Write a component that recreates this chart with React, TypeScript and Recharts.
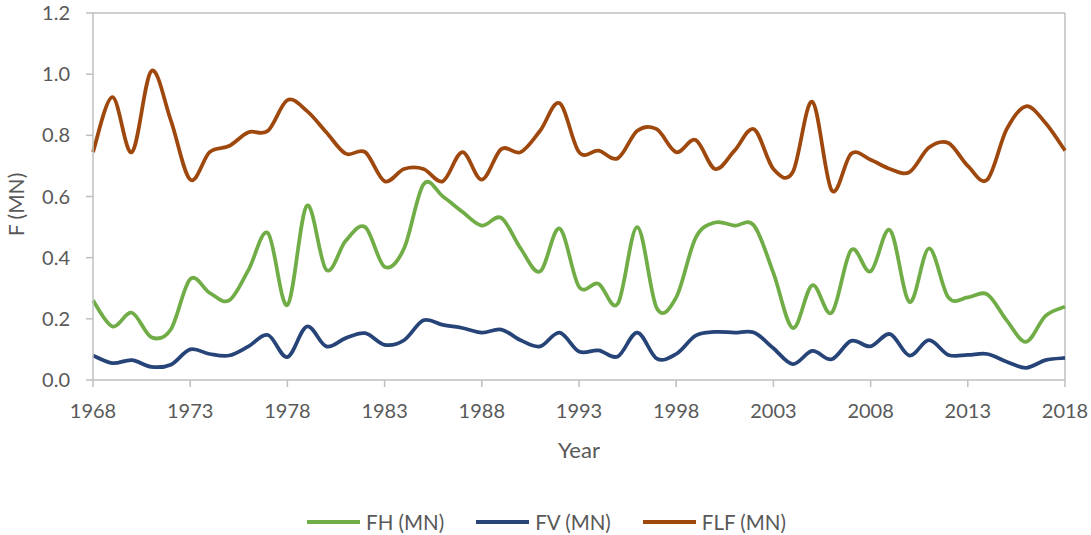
import React from 'react';
import { LineChart, Line, XAxis, YAxis, Legend, ReferenceLine } from 'recharts';

const years = [
  1968, 1969, 1970, 1971, 1972, 1973, 1974, 1975, 1976, 1977,
  1978, 1979, 1980, 1981, 1982, 1983, 1984, 1985, 1986, 1987,
  1988, 1989, 1990, 1991, 1992, 1993, 1994, 1995, 1996, 1997,
  1998, 1999, 2000, 2001, 2002, 2003, 2004, 2005, 2006, 2007,
  2008, 2009, 2010, 2011, 2012, 2013, 2014, 2015, 2016, 2017, 2018,
];

const fh = [
  0.26, 0.175, 0.22, 0.14, 0.165, 0.33, 0.285, 0.26, 0.36, 0.48,
  0.245, 0.57, 0.36, 0.455, 0.5, 0.37, 0.43, 0.64, 0.6, 0.55,
  0.505, 0.53, 0.43, 0.355, 0.495, 0.305, 0.315, 0.25, 0.5, 0.235,
  0.27, 0.465, 0.515, 0.505, 0.505, 0.35, 0.17, 0.31, 0.22, 0.425,
  0.355, 0.49, 0.255, 0.43, 0.27, 0.27, 0.28, 0.195, 0.125, 0.21, 0.24,
];

const fv = [
  0.08, 0.055, 0.065, 0.043, 0.05, 0.1, 0.085, 0.08, 0.11, 0.147,
  0.075, 0.175, 0.11, 0.137, 0.153, 0.115, 0.13, 0.195, 0.18, 0.17,
  0.155, 0.165, 0.13, 0.11, 0.155, 0.093, 0.097, 0.077, 0.155, 0.07,
  0.085, 0.145, 0.157, 0.155, 0.155, 0.104, 0.052, 0.095, 0.068, 0.128,
  0.11, 0.15, 0.08, 0.13, 0.082, 0.082, 0.085, 0.06, 0.04, 0.065, 0.072,
];

const flf = [
  0.745, 0.925, 0.745, 1.01, 0.85, 0.655, 0.745, 0.765, 0.81, 0.815,
  0.915, 0.88, 0.81, 0.74, 0.745, 0.65, 0.69, 0.69, 0.65, 0.745,
  0.655, 0.755, 0.745, 0.815, 0.905, 0.745, 0.75, 0.725, 0.815, 0.82,
  0.745, 0.785, 0.69, 0.75, 0.82, 0.69, 0.68, 0.91, 0.62, 0.74,
  0.72, 0.69, 0.68, 0.76, 0.775, 0.7, 0.655, 0.82, 0.895, 0.84, 0.75,
];

const seriesNames = ['FH (MN)', 'FV (MN)', 'FLF (MN)'];
const seriesColors = ['#70AD47', '#264478', '#9E480E'];

const xTicks = [1968, 1973, 1978, 1983, 1988, 1993, 1998, 2003, 2008, 2013, 2018];
const yTicks = [0, 0.2, 0.4, 0.6, 0.8, 1.0, 1.2];

const data = years.map((year, i) => ({
  year,
  [seriesNames[0]]: fh[i],
  [seriesNames[1]]: fv[i],
  [seriesNames[2]]: flf[i],
}));

const FONT = 'Lato, "Open Sans", sans-serif';
const TEXT = '#595959';
const AXIS = '#BFBFBF';

// excel-style smoothing: bezier through every point, control points from neighbours
function smoothCurve(context: any) {
  let xs: number[] = [];
  let ys: number[] = [];
  return {
    areaStart() {},
    areaEnd() {},
    lineStart() {
      xs = [];
      ys = [];
    },
    point(x: number, y: number) {
      xs.push(+x);
      ys.push(+y);
    },
    lineEnd() {
      const n = xs.length;
      if (!n) return;
      context.moveTo(xs[0], ys[0]);
      for (let i = 0; i < n - 1; i++) {
        const a = Math.max(i - 1, 0);
        const b = Math.min(i + 2, n - 1);
        const c1x = xs[i] + (xs[i + 1] - xs[a]) / 6;
        const c1y = ys[i] + (ys[i + 1] - ys[a]) / 6;
        const c2x = xs[i + 1] - (xs[b] - xs[i]) / 6;
        const c2y = ys[i + 1] - (ys[b] - ys[i]) / 6;
        context.bezierCurveTo(c1x, c1y, c2x, c2y, xs[i + 1], ys[i + 1]);
      }
    },
  };
}

// keep the series order (recharts sorts legend items by name otherwise)
const renderLegend = (props: any) => {
  const items = [...(props.payload || [])].sort(
    (a: any, b: any) => seriesNames.indexOf(a.value) - seriesNames.indexOf(b.value)
  );
  return (
    <div style={{ display: 'flex', justifyContent: 'center', paddingTop: 40, paddingLeft: 28, fontFamily: FONT, fontSize: 20.5, color: TEXT }}>
      {items.map((p: any) => (
        <div key={p.value} style={{ display: 'flex', alignItems: 'center', margin: '0 16px', height: 24 }}>
          <span style={{ display: 'inline-block', width: 53, height: 4, background: p.color, marginRight: 6 }} />
          <span>{p.value}</span>
        </div>
      ))}
    </div>
  );
};

export default function App() {
  return (
    <div style={{ position: 'absolute', left: 0, top: 0, background: '#fff' }}>
      <LineChart width={1091} height={535} data={data} margin={{ top: 13, right: 26, left: 0, bottom: 0 }}>
        <XAxis
          dataKey="year"
          type="number"
          domain={[1968, 2018]}
          ticks={xTicks}
          tickSize={7}
          tickMargin={17}
          height={90}
          stroke={AXIS}
          strokeWidth={1.5}
          tick={{ fill: TEXT, fontSize: 20, fontFamily: FONT }}
          label={(p: any) => {
            const vb = p.viewBox;
            return (
              <text x={vb.x + vb.width / 2} y={vb.y + 78} textAnchor="middle" fill={TEXT} fontSize={22} fontFamily={FONT}>
                Year
              </text>
            );
          }}
        />
        <YAxis
          domain={[0, 1.2]}
          ticks={yTicks}
          tickFormatter={(v: number) => v.toFixed(1)}
          width={93}
          tickSize={7}
          tickMargin={16}
          stroke={AXIS}
          strokeWidth={1.5}
          tick={{ fill: TEXT, fontSize: 20, fontFamily: FONT }}
          label={(p: any) => {
            const vb = p.viewBox;
            const cy = vb.y + vb.height / 2 + 8;
            return (
              <text x={24} y={cy} transform={`rotate(-90 24 ${cy})`} textAnchor="middle" fill={TEXT} fontSize={21} fontFamily={FONT}>
                F (MN)
              </text>
            );
          }}
        />
        <ReferenceLine y={1.2} stroke={AXIS} strokeWidth={1.5} />
        <ReferenceLine x={2018} stroke={AXIS} strokeWidth={1.5} />
        <Legend verticalAlign="bottom" height={65} content={renderLegend} />
        {seriesNames.map((name, i) => (
          <Line
            key={name}
            type={smoothCurve as any}
            dataKey={name}
            stroke={seriesColors[i]}
            strokeWidth={3.75}
            dot={false}
            activeDot={false}
            isAnimationActive={false}
          />
        ))}
      </LineChart>
    </div>
  );
}
